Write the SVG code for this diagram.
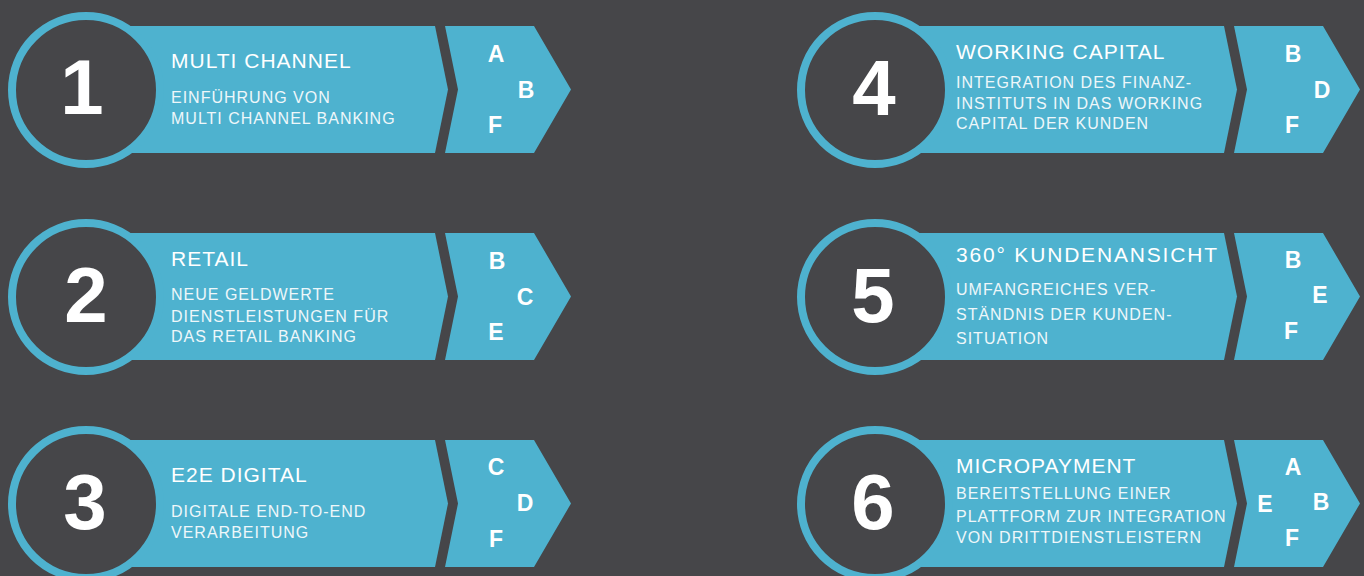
<svg xmlns="http://www.w3.org/2000/svg" width="1364" height="576" viewBox="0 0 1364 576">
<style>
.bg{fill:#464649}
.band{fill:#4eb2cf}
.ring{fill:#464649;stroke:#4eb2cf;stroke-width:8}
.num{font-family:"Liberation Sans",Arial,sans-serif;font-weight:bold;font-size:78px;fill:#ffffff;text-anchor:middle}
.title{font-family:"Liberation Sans",Arial,sans-serif;font-size:21px;letter-spacing:1px;fill:#ffffff}
.sub{font-family:"Liberation Sans",Arial,sans-serif;font-size:16px;letter-spacing:1px;fill:#eef7fa}
.let{font-family:"Liberation Sans",Arial,sans-serif;font-weight:bold;font-size:23px;fill:#ffffff;text-anchor:middle}
</style>
<defs>
<path id="banner" d="M86,0 H435 L448,63.5 L435,127 H86 Z"/>
<path id="chev" d="M445,0 H534 L571,63.5 L534,127 H445 L458,63.5 Z"/>
</defs>
<rect class="bg" x="0" y="0" width="1364" height="576"/>

<g id="node1" transform="translate(0,26)">
<use href="#banner" class="band"/><use href="#chev" class="band"/>
<circle class="ring" cx="86" cy="64" r="74"/>
<text class="num" x="82" y="88">1</text>
<text class="title" x="171" y="42">MULTI CHANNEL</text>
<text class="sub" x="171" y="77">EINFÜHRUNG VON</text>
<text class="sub" x="171" y="98">MULTI CHANNEL BANKING</text>
<text class="let" x="496" y="36">A</text>
<text class="let" x="526" y="72">B</text>
<text class="let" x="495" y="107">F</text>
</g>

<g id="node2" transform="translate(0,233)">
<use href="#banner" class="band"/><use href="#chev" class="band"/>
<circle class="ring" cx="86" cy="64" r="74"/>
<text class="num" x="86" y="89">2</text>
<text class="title" x="171" y="33">RETAIL</text>
<text class="sub" x="171" y="67">NEUE GELDWERTE</text>
<text class="sub" x="171" y="88.5">DIENSTLEISTUNGEN FÜR</text>
<text class="sub" x="171" y="109">DAS RETAIL BANKING</text>
<text class="let" x="497" y="36">B</text>
<text class="let" x="525" y="72">C</text>
<text class="let" x="496" y="107">E</text>
</g>

<g id="node3" transform="translate(0,440)">
<use href="#banner" class="band"/><use href="#chev" class="band"/>
<circle class="ring" cx="86" cy="64" r="74"/>
<text class="num" x="85" y="89">3</text>
<text class="title" x="171" y="42">E2E DIGITAL</text>
<text class="sub" x="171" y="77">DIGITALE END-TO-END</text>
<text class="sub" x="171" y="98">VERARBEITUNG</text>
<text class="let" x="496" y="35">C</text>
<text class="let" x="525" y="71">D</text>
<text class="let" x="496" y="107">F</text>
</g>

<g id="node4" transform="translate(789,26)">
<use href="#banner" class="band"/><use href="#chev" class="band"/>
<circle class="ring" cx="86" cy="64" r="74"/>
<text class="num" x="85" y="89">4</text>
<text class="title" x="167" y="33">WORKING CAPITAL</text>
<text class="sub" x="167" y="62">INTEGRATION DES FINANZ-</text>
<text class="sub" x="167" y="83">INSTITUTS IN DAS WORKING</text>
<text class="sub" x="167" y="103">CAPITAL DER KUNDEN</text>
<text class="let" x="504" y="36">B</text>
<text class="let" x="533" y="72">D</text>
<text class="let" x="503" y="107">F</text>
</g>

<g id="node5" transform="translate(789,233)">
<use href="#banner" class="band"/><use href="#chev" class="band"/>
<circle class="ring" cx="86" cy="64" r="74"/>
<text class="num" x="84" y="89">5</text>
<text class="title" x="167" y="29" textLength="262" lengthAdjust="spacing">360° KUNDENANSICHT</text>
<text class="sub" x="167" y="62">UMFANGREICHES VER-</text>
<text class="sub" x="167" y="87">STÄNDNIS DER KUNDEN-</text>
<text class="sub" x="167" y="111">SITUATION</text>
<text class="let" x="504" y="35">B</text>
<text class="let" x="531" y="70">E</text>
<text class="let" x="502" y="106">F</text>
</g>

<g id="node6" transform="translate(789,440)">
<use href="#banner" class="band"/><use href="#chev" class="band"/>
<circle class="ring" cx="86" cy="64" r="74"/>
<text class="num" x="84" y="89">6</text>
<text class="title" x="167" y="33">MICROPAYMENT</text>
<text class="sub" x="167" y="59">BEREITSTELLUNG EINER</text>
<text class="sub" x="167" y="81.5">PLATTFORM ZUR INTEGRATION</text>
<text class="sub" x="167" y="103">VON DRITTDIENSTLEISTERN</text>
<text class="let" x="504" y="35">A</text>
<text class="let" x="476" y="72">E</text>
<text class="let" x="532" y="70">B</text>
<text class="let" x="503" y="106">F</text>
</g>

<g id="connectors"></g>
</svg>
